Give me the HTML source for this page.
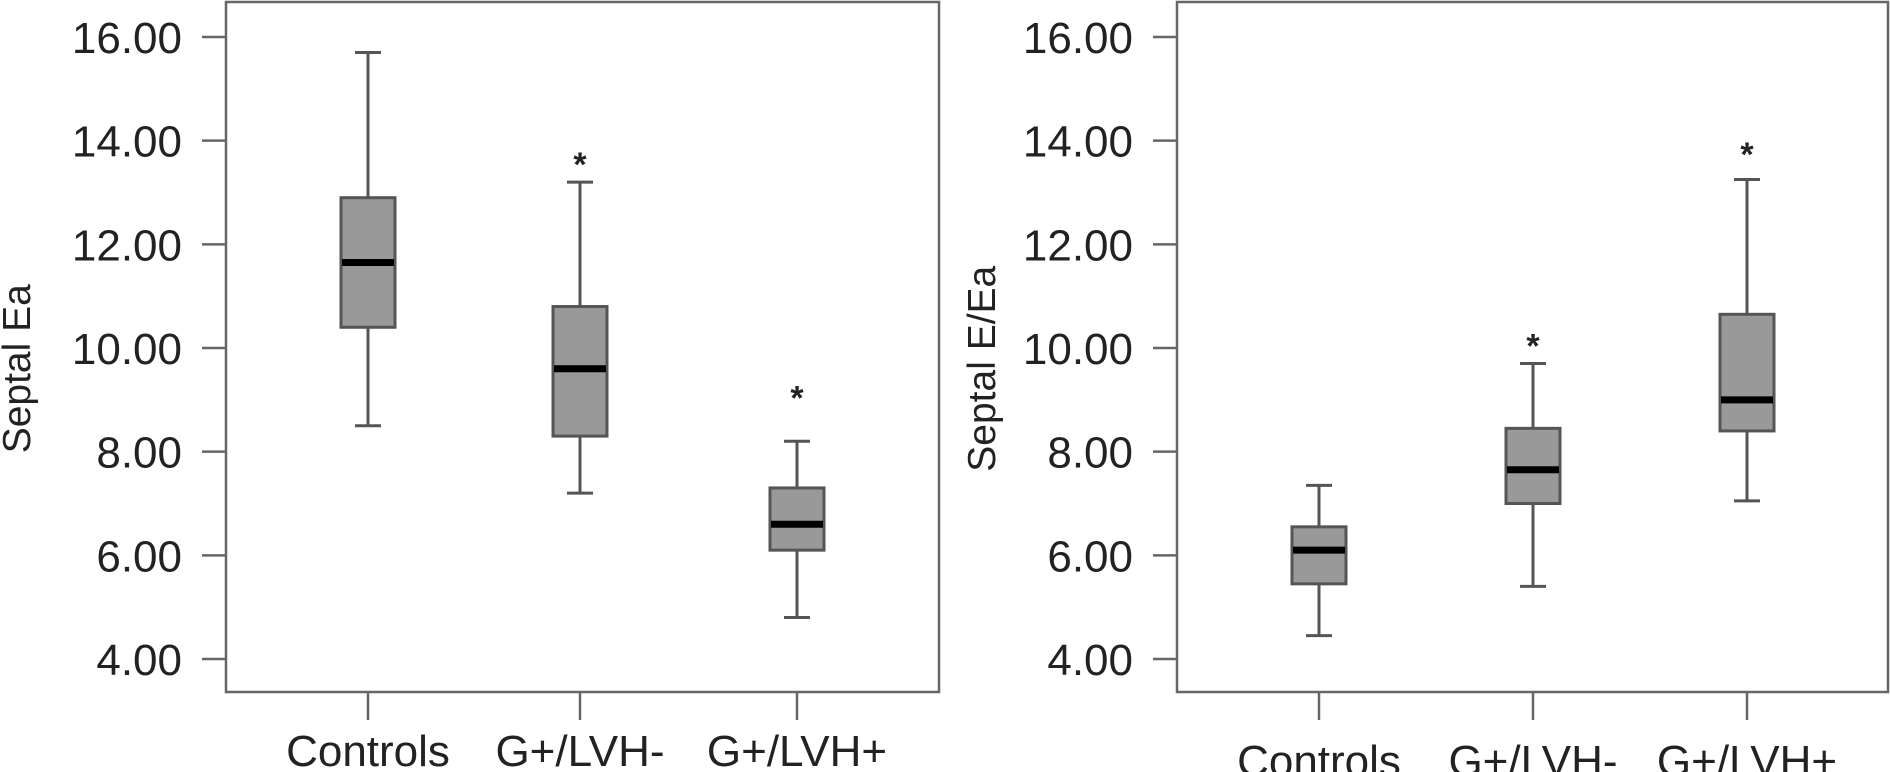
<!DOCTYPE html>
<html><head><meta charset="utf-8"><style>
html,body{margin:0;padding:0;background:#fff}
svg{display:block}
text{font-family:"Liberation Sans",Arial,sans-serif;fill:#222}
</style></head><body>
<svg id="chart" width="1890" height="772"></svg>
<script>
const categories = ["Controls","G+/LVH-","G+/LVH+"];
const yTicks = [4,6,8,10,12,14,16];
const tickLabels = ["4.00","6.00","8.00","10.00","12.00","14.00","16.00"];
// [min, q1, median, q3, max]
const septalEa = [[8.5,10.4,11.65,12.9,15.7],[7.2,8.3,9.6,10.8,13.2],[4.8,6.1,6.6,7.3,8.2]];
const septalEaOutliers = [null,13.7,9.2];
const septalEEa = [[4.45,5.45,6.1,6.55,7.35],[5.4,7.0,7.65,8.45,9.7],[7.05,8.4,9.0,10.65,13.25]];
const septalEEaOutliers = [null,10.2,13.9];

const NS="http://www.w3.org/2000/svg";
const svg=document.getElementById('chart');
function mk(tag,attrs,parent){const e=document.createElementNS(NS,tag);for(const k in attrs)e.setAttribute(k,attrs[k]);(parent||svg).appendChild(e);return e;}

function panel(cfg,data,outliers,prefix){
  const g=mk('g',{});
  
  
  const y=v=>37+(16-v)*(659-37)/12;
  const fr=mk('rect',{x:cfg.left,y:2,width:cfg.right-cfg.left,height:690,fill:'none',stroke:'#666','stroke-width':2.5},g);
  
  
  yTicks.forEach((t,i)=>{
    const l=mk('line',{x1:cfg.left-24,x2:cfg.left,y1:y(t),y2:y(t),stroke:'#666','stroke-width':2.5},g);
    
    
    const tx=mk('text',{x:cfg.left-44,y:y(t)+16,'text-anchor':'end','font-size':44},g);
    tx.textContent=tickLabels[i];
    
    
  });
  const yl=mk('text',{x:0,y:0,'text-anchor':'middle','font-size':39,transform:`translate(${cfg.ylx},${y(9.6)}) rotate(-90)`},g);
  yl.textContent=cfg.title;
  
  
  categories.forEach((c,i)=>{
    const cx=cfg.cx[i];
    const tk=mk('line',{x1:cx,x2:cx,y1:692,y2:720,stroke:'#666','stroke-width':2.5},g);
    
    
    const tl=mk('text',{x:cx,y:cfg.labelY,'text-anchor':'middle','font-size':44},g);
    tl.textContent=c;
    
    
    const d=data[i];
    const bg=mk('g',{},g);
    
    
    const st={stroke:'#555','stroke-width':3};
    mk('line',Object.assign({x1:cx,x2:cx,y1:y(d[0]),y2:y(d[1])},st),bg);
    mk('line',Object.assign({x1:cx,x2:cx,y1:y(d[3]),y2:y(d[4])},st),bg);
    mk('line',Object.assign({x1:cx-13,x2:cx+13,y1:y(d[0]),y2:y(d[0])},st),bg);
    mk('line',Object.assign({x1:cx-13,x2:cx+13,y1:y(d[4]),y2:y(d[4])},st),bg);
    mk('rect',Object.assign({x:cx-27,y:y(d[3]),width:54,height:y(d[1])-y(d[3]),fill:'#999'},st),bg);
    mk('line',{x1:cx-26,x2:cx+26,y1:y(d[2]),y2:y(d[2]),stroke:'#000','stroke-width':7},bg);
    if(outliers[i]!=null){
      const o=mk('text',{x:cx,y:y(outliers[i])+20,'text-anchor':'middle','font-size':34,'font-weight':'bold',fill:'#444'},g);
      o.textContent='*';
      
      
    }
  });
}
panel({left:226,right:939,cx:[368,580,797],ylx:30,labelY:766,title:'Septal Ea'},septalEa,septalEaOutliers,'septal-ea');
panel({left:1177,right:1888,cx:[1319,1533,1747],ylx:995,labelY:776,title:'Septal E/Ea'},septalEEa,septalEEaOutliers,'septal-e-ea');
</script>
</body></html>
